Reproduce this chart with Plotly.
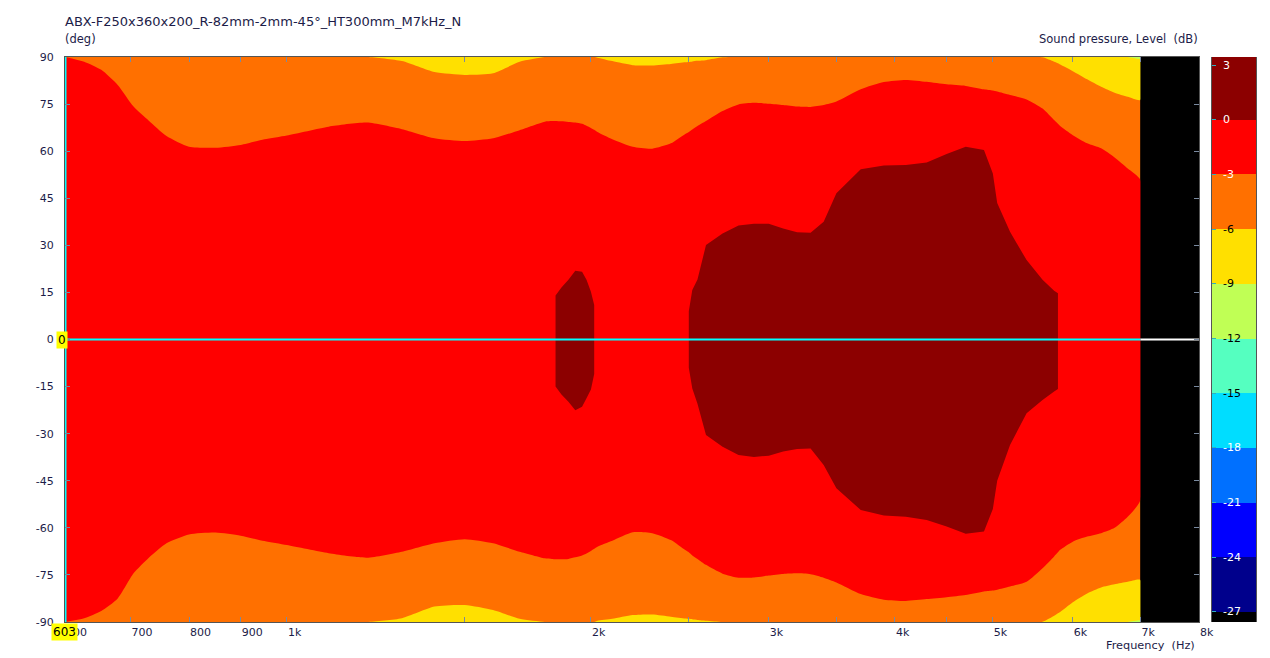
import numpy as np
import plotly.graph_objects as go

TITLE = "ABX-F250x360x200_R-82mm-2mm-45°_HT300mm_M7kHz_N"
Y_UNIT = "(deg)"
Z_TITLE = "Sound pressure, Level\u00a0\u00a0(dB)"
X_TITLE = "Frequency\u00a0\u00a0(Hz)"

# frequency columns (Hz)
freq_hz = [603, 630, 655, 680, 705, 730, 760, 800, 850, 900,
           950, 1000, 1100, 1200, 1300, 1400, 1500, 1600, 1700, 1800,
           1830, 1845, 1870, 1900, 1930, 1960, 1980, 2000, 2015, 2030,
           2100, 2200, 2300, 2400, 2480, 2500, 2520, 2550, 2600, 2700,
           2800, 2900, 3000, 3100, 3200, 3300, 3400, 3500, 3700, 3900,
           4100, 4300, 4500, 4700, 4900, 5000, 5050, 5200, 5400, 5600,
           5750, 5800, 5830, 6000, 6200, 6400, 6600, 6800, 7000]

# angle (deg) where the level crosses 0 dB (None: no region above 0 dB)
upper_0db = [None, None, None, None, None, None, None, None, None, None,
             None, None, None, None, None, None, None, None, None, None,
             None, 14, 16.6, 19.0, 21.9, 21.6, 19.0, 15.2, 11, None,
             None, None, None, None, None, 9, 15.8, 19.1, 30.1, 33.8,
             36.3, 36.9, 36.9, 35.4, 34.2, 34.0, 37.5, 46.6, 54.2, 55.4,
             55.6, 56.4, 59.1, 61.4, 60.4, 52.9, 43.5, 34.3, 25.3, 19.0,
             15.5, 14.7, None, None, None, None, None, None, None]
lower_0db = [None, None, None, None, None, None, None, None, None, None,
             None, None, None, None, None, None, None, None, None, None,
             None, -15, -17.5, -19.8, -22.5, -21.4, -18.7, -15.9, -11, None,
             None, None, None, None, None, -9, -15.6, -20.5, -30.4, -34.2,
             -36.8, -37.4, -37.0, -35.7, -34.9, -34.7, -40.0, -47.4, -54.3, -56.1,
             -56.5, -57.5, -59.6, -61.9, -61.2, -54.0, -45.0, -33.6, -23.5, -19.3,
             -16.6, -15.8, None, None, None, None, None, None, None]

# angle (deg) where the level crosses -3 dB
upper_3db = [91.5, 88.5, 85.9, 81.1, 74.2, 69.7, 64.8, 61.4, 61.1, 62.0,
             63.8, 65.0, 67.8, 69.1, 67.0, 64.1, 63.2, 64.1, 66.7, 69.4,
             69.6, 69.6, 69.5, 69.3, 69.1, 68.7, 68.1, 67.4, 66.8, 66.1,
             63.8, 61.4, 60.8, 62.5, 65.5, 66.1, 66.9, 68.0, 69.6, 72.8,
             74.9, 75.4, 75.1, 74.7, 74.2, 74.1, 74.7, 75.8, 79.7, 82.0,
             82.7, 82.1, 81.3, 80.8, 79.7, 79.3, 79.0, 77.9, 76.5, 73.6,
             69.9, 68.7, 68.0, 65.1, 62.5, 60.9, 58.0, 54.5, 50.8]
lower_3db = [-91.5, -88.8, -86.5, -82.5, -74.5, -69.5, -64.9, -62.1, -61.5, -62.5,
             -64.2, -65.5, -68.1, -69.5, -67.6, -64.9, -63.6, -64.9, -67.6, -69.7,
             -69.9, -70.0, -70.0, -69.9, -69.4, -68.8, -68.2, -67.4, -66.7, -66.0,
             -64.1, -61.4, -61.7, -63.9, -67.1, -67.8, -68.8, -69.9, -71.8, -74.6,
             -75.9, -75.8, -75.2, -74.7, -74.5, -74.8, -75.9, -77.4, -81.1, -82.9,
             -83.3, -82.7, -82.1, -81.4, -80.3, -80.0, -79.7, -78.7, -77.2, -72.9,
             -69.1, -67.8, -67.0, -64.4, -62.8, -61.7, -60.0, -56.5, -51.1]

# angle (deg) where the level crosses -6 dB
upper_6db = [99, 99, 99, 98, 97, 96, 96, 96, 96, 96,
             95, 95, 94, 91.5, 88.7, 85.2, 84.3, 84.8, 88.5, 91.5,
             92, 92, 92, 92, 91.5, 91, 90.8, 90.6, 90.2, 89.8,
             88.7, 87.4, 87.3, 87.8, 88.3, 88.4, 88.6, 88.8, 89.0, 89.9,
             90.8, 93, 94, 95, 95, 95, 95, 95, 95, 95,
             95, 95, 95, 95, 95, 94, 94, 93, 91.2, 89.9,
             88.5, 88.0, 87.6, 85.5, 82.9, 80.5, 78.6, 77.3, 76.3]
lower_6db = [-99, -99, -99, -98, -97, -96, -96, -96, -96, -96,
             -95, -95, -94, -91.5, -88.8, -85.1, -84.6, -86.2, -89.0, -91.5,
             -92, -92, -92, -92, -91.5, -91, -90.8, -90.5, -90.1, -89.6,
             -89.0, -87.8, -87.6, -88.3, -88.9, -89.0, -89.15, -89.35, -89.6, -90.1,
             -91.0, -93, -94, -95, -95, -95, -95, -95, -95, -95,
             -95, -95, -95, -95, -95, -94, -94, -93, -91.0, -89.9,
             -88.0, -87.2, -86.8, -83.7, -80.9, -79.0, -78.0, -77.2, -76.6]

# angle (deg) where the level crosses -9 dB
upper_9db = [100, 100, 100, 100, 100, 100, 100, 100, 100, 100,
             100, 100, 100, 100, 100, 100, 100, 100, 100, 100,
             100, 100, 100, 100, 100, 100, 100, 100, 100, 100,
             100, 100, 100, 100, 100, 100, 100, 100, 100, 100,
             100, 100, 100, 100, 100, 100, 100, 100, 100, 100,
             100, 100, 100, 100, 100, 100, 100, 100, 100, 100,
             100, 100, 100, 100, 99, 96, 93, 90.3, 89.4]
lower_9db = [-100, -100, -100, -100, -100, -100, -100, -100, -100, -100,
             -100, -100, -100, -100, -100, -100, -100, -100, -100, -100,
             -100, -100, -100, -100, -100, -100, -100, -100, -100, -100,
             -100, -100, -100, -100, -100, -100, -100, -100, -100, -100,
             -100, -100, -100, -100, -100, -100, -100, -100, -100, -100,
             -100, -100, -100, -100, -100, -100, -100, -100, -100, -100,
             -100, -100, -100, -100, -99, -96, -93, -90.3, -89.5]

# colour levels (dB) and band colours (lowest band first)
levels = [-27, -24, -21, -18, -15, -12, -9, -6, -3, 0, 3]
band_colors = ["#000000", "#00008C", "#0000FF", "#0070FF", "#00DDFF", "#55FFC0",
               "#C0FF55", "#FFE000", "#FF7000", "#FF0000", "#8C0000", "#8C0000"]
level_label_colors = ["white", "white", "white", "white", "black", "black",
                      "black", "black", "white", "white", "white"]
no_data_color = "#000000"
colorbar_range = [-27.55, 3.44]

x_tick_vals = [603, 700, 800, 900, 1000, 1500, 2000, 2500, 3000, 3500, 4000, 4500, 5000, 6000, 7000, 8000]
x_tick_text = ["600", "700", "800", "900", "1k", "", "2k", "", "3k", "", "4k", "", "5k", "6k", "7k", "8k"]
y_tick_vals = [-90, -75, -60, -45, -30, -15, 0, 15, 30, 45, 60, 75, 90]
angle_range = [-90, 90]
x_range_hz = [603, 8000]
cursor_freq = 603
cursor_angle = 0

n = len(freq_hz)
for arr in (upper_0db, lower_0db, upper_3db, lower_3db, upper_6db,
            lower_6db, upper_9db, lower_9db):
    assert len(arr) == n, len(arr)


def color_of(level_low):
    """colour of the band that starts at level_low"""
    return band_colors[levels.index(level_low) + 1]


fig = go.Figure()
f = np.array(freq_hz, dtype=float)
top, bot = angle_range[1], angle_range[0]


def add_poly(xs, ys, color, shape="linear"):
    fig.add_trace(go.Scatter(x=list(xs), y=list(ys), mode="lines", fill="toself",
                             fillcolor=color, line=dict(width=0, color=color, shape=shape,
                                                        smoothing=0.6),
                             hoverinfo="skip", showlegend=False))


# -6..-3 dB band covers the measured area
add_poly([f[0], f[-1], f[-1], f[0]], [bot, bot, top, top], color_of(-6))
# bands beyond the -6 and -9 dB lines (top and bottom edges)
for lvl, up, lo in ((-9, upper_6db, lower_6db), (-12, upper_9db, lower_9db)):
    uy = np.minimum(np.array(up, float), top)
    ly = np.maximum(np.array(lo, float), bot)
    add_poly(np.r_[f, f[::-1]], np.r_[uy, np.full(n, top)], color_of(lvl), "spline")
    add_poly(np.r_[f, f[::-1]], np.r_[ly, np.full(n, bot)], color_of(lvl), "spline")
# -3..0 dB band
uy = np.minimum(np.array(upper_3db, float), top)
ly = np.maximum(np.array(lower_3db, float), bot)
add_poly(np.r_[f, f[::-1]], np.r_[uy, ly[::-1]], color_of(-3), "spline")
# regions above 0 dB
j = 0
while j < n:
    if upper_0db[j] is None:
        j += 1
        continue
    k = j
    while k < n and upper_0db[k] is not None:
        k += 1
    xs = np.r_[f[j:k], f[j:k][::-1]]
    ys = np.r_[np.array(upper_0db[j:k], float), np.array(lower_0db[j:k], float)[::-1]]
    add_poly(xs, ys, color_of(0), "linear")
    j = k
# no data above the last measured frequency
add_poly([f[-1], x_range_hz[1], x_range_hz[1], f[-1]], [bot, bot, top, top], no_data_color)

# cursor lines
fig.add_trace(go.Scatter(x=[cursor_freq, f[-1]], y=[cursor_angle, cursor_angle], mode="lines",
                         line=dict(color="#00FFFF", width=2), hoverinfo="skip", showlegend=False))
fig.add_trace(go.Scatter(x=[f[-1], x_range_hz[1]], y=[cursor_angle, cursor_angle], mode="lines",
                         line=dict(color="#FFFFFF", width=2), hoverinfo="skip", showlegend=False))
fig.add_trace(go.Scatter(x=[cursor_freq, cursor_freq], y=angle_range, mode="lines",
                         line=dict(color="#00FFFF", width=3), hoverinfo="skip", showlegend=False))

# colour bar as a heatmap on its own axes
step = levels[1] - levels[0]
nb = len(band_colors)
cscale = []
for k, col in enumerate(band_colors):
    cscale.append([max(0.0, (k - 0.5) / (nb - 1)), col])
    cscale.append([min(1.0, (k + 0.5) / (nb - 1)), col])
cb_edges = [colorbar_range[0]] + levels + [colorbar_range[1]]
cb_vals = [levels[0] - step / 2] + [l + step / 2 for l in levels]
fig.add_trace(go.Heatmap(
    x=[0, 1], y=cb_edges, z=[[v] for v in cb_vals],
    colorscale=cscale, zmin=levels[0] - step / 2, zmax=levels[-1] + step / 2,
    showscale=False, hoverinfo="skip", xaxis="x2", yaxis="y2",
))

W, H = 1270, 658
L, R, T, B = 65, 14, 57, 36
plot_w = W - L - R
main_right = (1199 - L) / plot_w
cb_left = (1212 - L) / plot_w
plot_h = H - T - B

FONT = "DejaVu Sans"
TXT = "#1c1c48"
TICKC = "#7a8aa0"

fig.update_layout(
    width=W, height=H, autosize=False,
    margin=dict(l=L, r=R, t=T, b=B, pad=0),
    paper_bgcolor="white", plot_bgcolor=no_data_color,
    showlegend=False,
    font=dict(family=FONT, size=11, color=TXT),
    xaxis=dict(
        type="log", domain=[0, main_right], automargin=False,
        range=[np.log10(x_range_hz[0]), np.log10(x_range_hz[1])],
        tickvals=x_tick_vals, ticktext=x_tick_text,
        ticks="inside", ticklen=5, tickcolor=TICKC, tickwidth=1,
        mirror="ticks", showline=True, linecolor="#555555", linewidth=1,
        showgrid=False, zeroline=False,
        ticklabelposition="outside right",
        tickfont=dict(family=FONT, size=11, color=TXT),
    ),
    yaxis=dict(
        range=angle_range, automargin=False,
        tickvals=y_tick_vals, ticktext=[str(v) for v in y_tick_vals],
        ticks="inside", ticklen=5, tickcolor=TICKC, tickwidth=1,
        mirror="ticks", showline=True, linecolor="#555555", linewidth=1,
        showgrid=False, zeroline=False,
        ticklabelstandoff=8,
        tickfont=dict(family=FONT, size=11, color=TXT),
    ),
    xaxis2=dict(domain=[cb_left, 1], range=[0, 1], anchor="y2", visible=False,
                fixedrange=True, automargin=False),
    yaxis2=dict(
        domain=[0, 1], range=colorbar_range, anchor="x2", automargin=False,
        tickvals=levels, showticklabels=False,
        ticks="inside", ticklen=4, tickcolor="#30b0c0",
        showline=True, mirror=True, linecolor="#555555", linewidth=1,
        showgrid=False, zeroline=False, fixedrange=True,
    ),
)

ann = []
ann.append(dict(text=TITLE, xref="paper", yref="paper", x=0, y=1 + 35 / plot_h,
                xanchor="left", yanchor="middle", xshift=-2, showarrow=False,
                font=dict(family=FONT, size=13, color=TXT)))
ann.append(dict(text=Y_UNIT, xref="paper", yref="paper", x=0, y=1 + 18 / plot_h,
                xanchor="left", yanchor="middle", xshift=-2, showarrow=False,
                font=dict(family=FONT, size=11.5, color=TXT)))
ann.append(dict(text=Z_TITLE, xref="paper", yref="paper", x=main_right, y=1 + 18 / plot_h,
                xanchor="right", yanchor="middle", xshift=1, showarrow=False,
                font=dict(family=FONT, size=11.5, color=TXT)))
ann.append(dict(text=X_TITLE, xref="paper", yref="paper", x=main_right, y=-24 / plot_h,
                xanchor="right", yanchor="middle", xshift=-2, showarrow=False,
                font=dict(family=FONT, size=11.3, color=TXT)))
# colour bar labels
for lv, col in zip(levels, level_label_colors):
    ann.append(dict(text=str(lv), xref="x2", yref="y2", x=0, y=lv, xanchor="left", yanchor="middle",
                    xshift=9, showarrow=False, font=dict(family=FONT, size=11, color=col)))
# cursor value boxes
ann.append(dict(text=str(cursor_angle), xref="paper", yref="y", x=0, y=cursor_angle,
                xanchor="right", yanchor="middle", xshift=3, showarrow=False,
                bgcolor="#FFFF00", borderpad=1, font=dict(family=FONT, size=12, color="black")))
ann.append(dict(text=str(cursor_freq), xref="paper", yref="paper", x=0, y=0,
                xanchor="left", yanchor="top", xshift=-14, yshift=-1, showarrow=False,
                bgcolor="#FFFF00", borderpad=1, font=dict(family=FONT, size=12, color="black")))
fig.update_layout(annotations=ann)

fig.write_html("out.html", config={"displayModeBar": False, "responsive": False},
               post_script="document.body.style.margin='0';document.body.style.overflow='hidden';")
